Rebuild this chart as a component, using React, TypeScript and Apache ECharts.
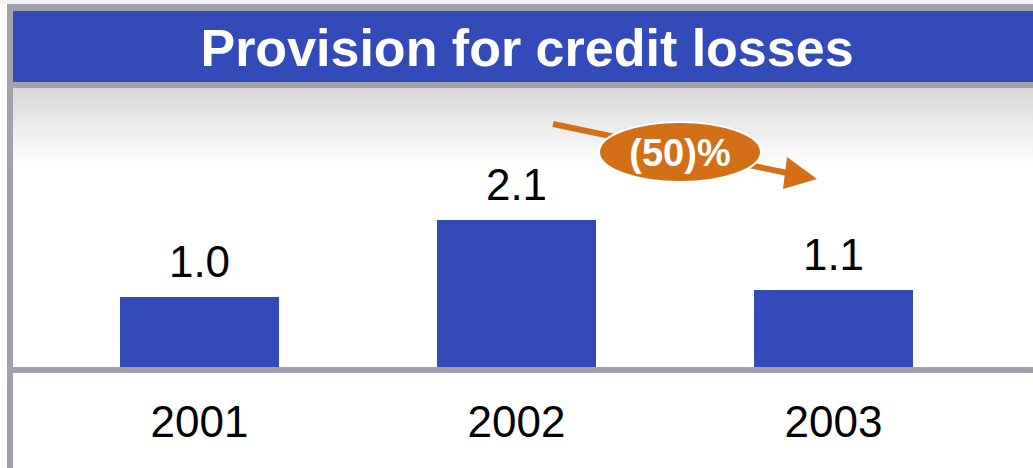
import React, { useEffect, useRef } from "react";
import * as echarts from "echarts";

const categories = ["2001", "2002", "2003"];
const values = [1.0, 2.1, 1.1];
const titleText = "Provision for credit losses";
const changeText = "(50)%";

const BLUE = "#334BB9";
const GRAY = "#A2A2AA";
const ORANGE = "#D37017";
const FONT = "'Liberation Sans', Arial, sans-serif";

export default function App() {
  const ref = useRef<HTMLDivElement>(null);
  useEffect(() => {
    if (!ref.current) return;
    const chart = echarts.init(ref.current, undefined, { renderer: "svg" });
    chart.setOption({
      animation: false,
      backgroundColor: "#ffffff",
      grid: { left: 41, right: 41, top: 87, bottom: 101 },
      xAxis: {
        type: "category",
        data: categories,
        axisLine: { show: false },
        axisTick: { show: false },
        axisLabel: {
          color: "#000",
          fontSize: 44,
          fontFamily: FONT,
          margin: 32,
        },
      },
      yAxis: {
        type: "value",
        min: 0,
        max: 4,
        show: false,
        splitLine: { show: false },
      },
      graphic: [
        { type: "rect", z: -10, shape: { x: 0, y: 0, width: 1033, height: 4 }, style: { fill: "#F2F2F2" } },
        {
          type: "rect",
          z: -10,
          shape: { x: 13, y: 88, width: 1020, height: 80 },
          style: {
            fill: new echarts.graphic.LinearGradient(0, 0, 0, 1, [
              { offset: 0, color: "#D9D9D9" },
              { offset: 1, color: "#FFFFFF" },
            ]),
          },
        },
        { type: "rect", shape: { x: 7, y: 4, width: 1026, height: 84 }, style: { fill: GRAY } },
        { type: "rect", shape: { x: 13, y: 11, width: 1020, height: 71 }, style: { fill: BLUE } },
        {
          type: "text",
          x: 527,
          y: 48,
          style: {
            text: titleText,
            fill: "#fff",
            font: `bold 52px ${FONT}`,
            align: "center",
            verticalAlign: "middle",
          },
        },
        { type: "rect", shape: { x: 7, y: 88, width: 6, height: 380 }, style: { fill: GRAY } },
        { type: "rect", shape: { x: 7, y: 367, width: 1026, height: 6 }, style: { fill: GRAY } },
        {
          type: "line",
          shape: { x1: 553, y1: 124, x2: 792, y2: 174 },
          style: { stroke: ORANGE, lineWidth: 6 },
        },
        {
          type: "polygon",
          shape: { points: [[817, 179], [787, 157], [783, 189]] },
          style: { fill: ORANGE },
        },
        {
          type: "ellipse",
          shape: { cx: 680, cy: 152, rx: 81, ry: 30 },
          style: { fill: ORANGE, stroke: "#ffffff", lineWidth: 2 },
        },
        {
          type: "text",
          x: 680,
          y: 153,
          style: {
            text: changeText,
            fill: "#fff",
            font: `bold 38px ${FONT}`,
            align: "center",
            verticalAlign: "middle",
          },
        },
      ],
      series: [
        {
          type: "bar",
          data: values,
          barWidth: 159,
          itemStyle: { color: BLUE },
          label: {
            show: true,
            position: "top",
            distance: 14,
            color: "#000",
            fontSize: 44,
            fontFamily: FONT,
            formatter: (p: any) => p.value.toFixed(1),
          },
        },
      ],
    });
    return () => chart.dispose();
  }, []);
  return (
    <div
      ref={ref}
      style={{ position: "absolute", left: 0, top: 0, width: 1033, height: 468 }}
    />
  );
}
